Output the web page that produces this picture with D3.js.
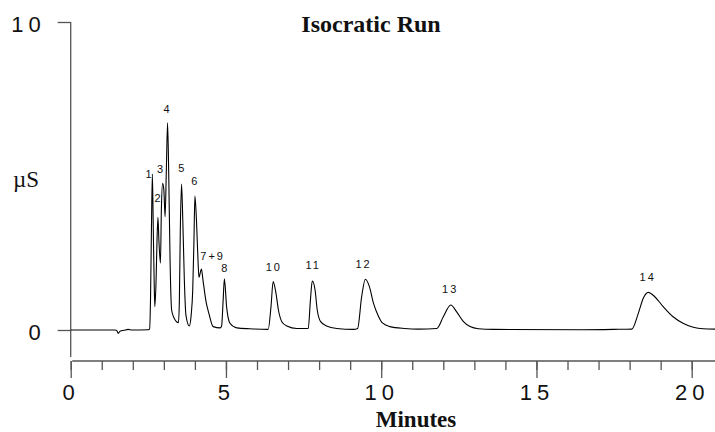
<!DOCTYPE html>
<html>
<head>
<meta charset="utf-8">
<script src="https://cdn.jsdelivr.net/npm/d3@7"></script>
<style>
  html, body { margin: 0; padding: 0; background: #fff; }
  svg { display: block; }
</style>
</head>
<body>
<svg id="chart" width="715" height="432"></svg>
<script>
// ---- Data ----
const trace = [
  [0, 0], [1.43, 0], [1.49, -0.03], [1.53, -0.11], [1.59, -0.04], [1.72, -0.01], [1.85, 0.02], [1.97, 0], [2.50, 0.01],
  [2.54, 0.03], [2.57, 0.97], [2.60, 3.25], [2.63, 5.06], [2.66, 3.25], [2.69, 1.46], [2.71, 0.76],
  [2.75, 1.62], [2.78, 2.92], [2.81, 3.66], [2.84, 2.92], [2.89, 2.17],
  [2.92, 3.90], [2.96, 4.76], [3.00, 4.55], [3.04, 3.68],
  [3.08, 5.19], [3.12, 6.73], [3.16, 4.87], [3.20, 2.27], [3.25, 0.65], [3.33, 0.39], [3.47, 0.24],
  [3.50, 0.97], [3.53, 3.25], [3.57, 4.74], [3.61, 3.57], [3.66, 1.62], [3.71, 0.49], [3.82, 0.13],
  [3.88, 0.49], [3.93, 1.30], [3.97, 2.92], [4.00, 4.35], [4.05, 3.57], [4.10, 2.27], [4.13, 1.71],
  [4.21, 1.98], [4.26, 1.62], [4.36, 0.91], [4.45, 0.54], [4.59, 0.11], [4.81, 0.07],
  [4.86, 0.13], [4.91, 0.97], [4.95, 1.66], [5.02, 0.76], [5.13, 0.22], [5.35, 0.07], [5.77, 0.04],
  [6.36, 0.02], [6.45, 0.75], [6.52, 1.57], [6.61, 1.20], [6.69, 0.65], [6.80, 0.27], [6.96, 0.13], [7.28, 0.05],
  [7.65, 0.05], [7.72, 0.97], [7.78, 1.59], [7.87, 1.30], [7.94, 0.65], [8.05, 0.27], [8.24, 0.13], [8.57, 0.05], [9.10, 0.02],
  [9.24, 0.05], [9.37, 1.08], [9.49, 1.65], [9.62, 1.41], [9.75, 0.87], [9.91, 0.45], [10.05, 0.22], [10.28, 0.11], [10.75, 0.05], [11.2, 0.03],
  [11.79, 0.05], [12.00, 0.43], [12.24, 0.81], [12.43, 0.59], [12.65, 0.27], [12.86, 0.11], [13.13, 0.04], [13.61, 0.02], [16.5, 0.01], [17.5, 0.02],
  [18.07, 0.03], [18.28, 0.54], [18.44, 1.03], [18.60, 1.22], [18.81, 1.08], [19.08, 0.76], [19.40, 0.43], [19.72, 0.22], [20.05, 0.09], [20.37, 0.04], [20.75, 0.03]
];

const peakNames  = ["1", "2", "3", "4", "5", "6", "7+9", "8", "10", "11", "12", "13", "14"];
const peakTimes  = [2.51, 2.80, 2.88, 3.09, 3.56, 3.98, 4.54, 4.95, 6.51, 7.78, 9.40, 12.19, 18.55];
const peakLabelY = [5.05, 4.30, 5.23, 7.16, 5.25, 4.84, 2.41, 2.00, 2.05, 2.11, 2.14, 1.32, 1.71];

const xMajorTicks = [0, 5, 10, 15, 20];
const xMinorTicks = d3.range(0, 21, 1);
const yTicks = [0, 10];

const title = "Isocratic Run";
const xTitle = "Minutes";
const yTitle = "\u00B5S";

// ---- Scales ----
const svg = d3.select("#chart");
const x = d3.scaleLinear().domain([0, 20.75]).range([70.7, 715]);
const y = d3.scaleLinear().domain([0, 10]).range([330, 22]);
const yAxisBottom = 357;
const xAxisY = 361;

const axisColor = "#555";

// ---- Y axis ----
const yAxis = d3.axisLeft(y).tickValues(yTicks).tickSize(13).tickSizeOuter(0).tickFormat(d3.format("d"));
const gy = svg.append("g").attr("transform", "translate(" + x(0) + ",0)").call(yAxis);
gy.select(".domain").remove();
gy.append("line").attr("x1", 0).attr("x2", 0).attr("y1", y(10)).attr("y2", yAxisBottom)
  .attr("stroke", axisColor).attr("stroke-width", 1.3);
gy.selectAll(".tick line").attr("stroke", axisColor).attr("stroke-width", 1.3);
gy.selectAll(".tick text")
  .attr("x", -25).attr("dy", null).attr("y", 9)
  .attr("fill", "#111")
  .style("font-family", "'Liberation Sans', Arial, sans-serif")
  .style("font-size", "22px")
  .style("letter-spacing", "5px")
  .attr("text-anchor", "end");

// ---- X axis ----
const gxMinor = svg.append("g").attr("transform", "translate(0," + xAxisY + ")")
  .call(d3.axisBottom(x).tickValues(xMinorTicks).tickSize(9).tickSizeOuter(0).tickFormat(""));
gxMinor.select(".domain").remove();
gxMinor.selectAll(".tick line").attr("stroke", axisColor).attr("stroke-width", 1.3);

const gx = svg.append("g").attr("transform", "translate(0," + xAxisY + ")")
  .call(d3.axisBottom(x).tickValues(xMajorTicks).tickSize(17).tickSizeOuter(0).tickFormat(d3.format("d")));
gx.select(".domain").remove();
gx.append("line").attr("x1", x(0) + 1.5).attr("x2", 715).attr("y1", 0).attr("y2", 0)
  .attr("stroke", axisColor).attr("stroke-width", 1.3);
gx.selectAll(".tick line").attr("stroke", axisColor).attr("stroke-width", 1.3);
gx.selectAll(".tick text")
  .attr("y", 39).attr("dy", null).attr("dx", 0)
  .attr("fill", "#111")
  .style("font-family", "'Liberation Sans', Arial, sans-serif")
  .style("font-size", "22px")
  .style("letter-spacing", "5px");

// ---- Trace ----
const line = d3.line()
  .x(d => x(d[0]))
  .y(d => y(d[1]))
  .curve(d3.curveMonotoneX);

svg.append("path")
  .datum(trace)
  .attr("d", line)
  .attr("fill", "none")
  .attr("stroke", "#000")
  .attr("stroke-width", 1.1)
  .attr("stroke-linejoin", "round");

// ---- Peak labels ----
svg.append("g").selectAll("text")
  .data(peakNames)
  .join("text")
  .attr("x", (d, i) => x(peakTimes[i]) + 1)
  .attr("y", (d, i) => y(peakLabelY[i]) + 4)
  .attr("text-anchor", "middle")
  .attr("fill", "#111")
  .style("font-family", "'Liberation Sans', Arial, sans-serif")
  .style("font-size", "11px")
  .style("letter-spacing", "2px")
  .text(d => d);

// ---- Titles ----
svg.append("text")
  .attr("x", 371).attr("y", 32)
  .attr("text-anchor", "middle")
  .attr("fill", "#111")
  .style("font-family", "'Liberation Serif', 'Times New Roman', serif")
  .style("font-weight", "bold")
  .style("font-size", "24px")
  .text(title);

svg.append("text")
  .attr("x", 416).attr("y", 427)
  .attr("text-anchor", "middle")
  .attr("fill", "#111")
  .style("font-family", "'Liberation Serif', 'Times New Roman', serif")
  .style("font-weight", "bold")
  .style("font-size", "23px")
  .text(xTitle);

svg.append("text")
  .attr("x", 13).attr("y", 187)
  .attr("fill", "#111")
  .style("font-family", "'Liberation Serif', 'Times New Roman', serif")
  .style("font-size", "23px")
  .text(yTitle);
</script>
</body>
</html>
